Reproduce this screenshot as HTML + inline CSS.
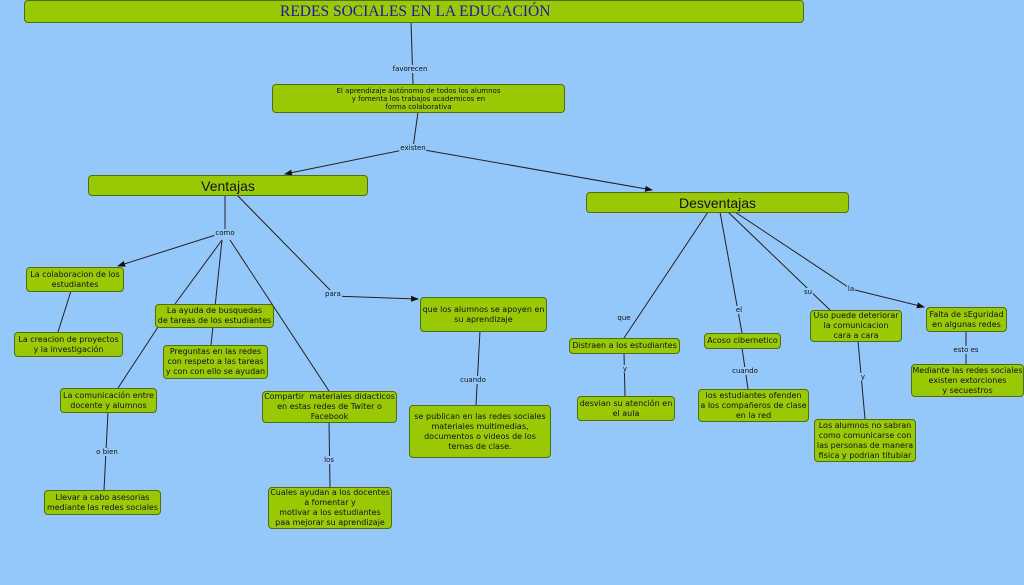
<!DOCTYPE html>
<html><head><meta charset="utf-8"><style>
body{margin:0;width:1024px;height:585px;background:#95c7fb;position:relative;overflow:hidden;font-family:"DejaVu Sans","Liberation Sans",sans-serif;}
.b{position:absolute;background:#99c900;border:1px solid #4f6d12;border-radius:4px;box-sizing:border-box;display:flex;align-items:center;justify-content:center;text-align:center;font-size:8px;line-height:10px;color:#111;}
.l{position:absolute;font-size:7px;color:#111;background:#95c7fb;transform:translate(-50%,-50%);padding:0 1px;white-space:nowrap;}
svg{position:absolute;left:0;top:0}
</style></head><body>
<svg width="1024" height="585">
<defs><marker id="a" markerWidth="8" markerHeight="6" refX="7" refY="3" orient="auto"><path d="M0,0L8,3L0,6z" fill="#111"/></marker></defs>
<g stroke="#222" stroke-width="1" fill="none">
<path d="M411,22L413,84"/>
<path d="M418,112L413,148"/>
<path d="M413,148L285,174" marker-end="url(#a)"/>
<path d="M413,148L652,190" marker-end="url(#a)"/>
<path d="M225,195L225,232"/>
<path d="M225,232L118,266" marker-end="url(#a)"/>
<path d="M222,240L175,304"/>
<path d="M222,240L211,345"/>
<path d="M158,327L118,388"/>
<path d="M230,240L329,391"/>
<path d="M237,195L333,293"/>
<path d="M333,296L418,299" marker-end="url(#a)"/>
<path d="M71,291L58,332"/>
<path d="M108,412L104,490"/>
<path d="M329,422L330,487"/>
<path d="M480,331L476,405"/>
<path d="M708,212L624,338"/>
<path d="M720,212L742,333"/>
<path d="M728,212L830,310"/>
<path d="M735,212L851,289L924,307" marker-end="url(#a)"/>
<path d="M624,353L625,396"/>
<path d="M742,348L748,389"/>
<path d="M858,341L865,419"/>
<path d="M966,331L966,364"/>
</g></svg>
<div class="b" style="left:24px;top:0;width:780px;height:23px;justify-content:flex-start;padding-left:255px;font-family:'Liberation Serif',serif;font-size:15.5px;color:#1a1aa0;">REDES SOCIALES EN LA EDUCACIÓN</div>
<div class="b" style="left:272px;top:84px;width:293px;height:29px;font-size:7px;line-height:8px;">El aprendizaje autónomo de todos los alumnos<br>y fomenta los trabajos academicos en<br>forma colaborativa</div>
<div class="b" style="left:88px;top:175px;width:280px;height:21px;font-family:'Liberation Sans',sans-serif;font-size:14px;">Ventajas</div>
<div class="b" style="left:586px;top:192px;width:263px;height:21px;font-family:'Liberation Sans',sans-serif;font-size:14px;">Desventajas</div>
<div class="b" style="left:26px;top:267px;width:98px;height:25px;">La colaboracion de los<br>estudiantes</div>
<div class="b" style="left:14px;top:332px;width:109px;height:25px;">La creacion de proyectos<br>y la investigación</div>
<div class="b" style="left:155px;top:304px;width:119px;height:24px;">La ayuda de busquedas<br>de tareas de los estudiantes</div>
<div class="b" style="left:163px;top:345px;width:105px;height:34px;">Preguntas en las redes<br>con respeto a las tareas<br>y con con ello se ayudan</div>
<div class="b" style="left:60px;top:388px;width:97px;height:25px;">La comunicación entre<br>docente y alumnos</div>
<div class="b" style="left:44px;top:490px;width:117px;height:25px;">Llevar a cabo asesorias<br>mediante las redes sociales</div>
<div class="b" style="left:262px;top:391px;width:135px;height:32px;">Compartir&nbsp; materiales didacticos<br>en estas redes de Twiter o<br>Facebook</div>
<div class="b" style="left:268px;top:487px;width:124px;height:42px;">Cuales ayudan a los docentes<br>a fomentar y<br>motivar a los estudiantes<br>paa mejorar su aprendizaje</div>
<div class="b" style="left:420px;top:297px;width:127px;height:35px;">que los alumnos se apoyen en<br>su aprendizaje</div>
<div class="b" style="left:409px;top:405px;width:142px;height:53px;">se publican en las redes sociales<br>materiales multimedias,<br>documentos o videos de los<br>temas de clase.</div>
<div class="b" style="left:569px;top:338px;width:111px;height:16px;">Distraen a los estudiantes</div>
<div class="b" style="left:577px;top:396px;width:98px;height:25px;">desvian su atención en<br>el aula</div>
<div class="b" style="left:704px;top:333px;width:77px;height:16px;">Acoso cibernetico</div>
<div class="b" style="left:698px;top:389px;width:111px;height:33px;">los estudiantes ofenden<br>a los compañeros de clase<br>en la red</div>
<div class="b" style="left:810px;top:310px;width:92px;height:32px;">Uso puede deteriorar<br>la comunicacion<br>cara a cara</div>
<div class="b" style="left:814px;top:419px;width:102px;height:43px;">Los alumnos no sabran<br>como comunicarse con<br>las personas de manera<br>fisica y podrian titubiar</div>
<div class="b" style="left:926px;top:307px;width:81px;height:25px;">Falta de sEguridad<br>en algunas redes</div>
<div class="b" style="left:911px;top:364px;width:113px;height:33px;">Mediante las redes sociales<br>existen extorciones<br>y secuestros</div>
<div class="l" style="left:410px;top:69px">favorecen</div>
<div class="l" style="left:413px;top:148px">existen</div>
<div class="l" style="left:225px;top:233px">como</div>
<div class="l" style="left:333px;top:294px">para</div>
<div class="l" style="left:107px;top:452px">o bien</div>
<div class="l" style="left:329px;top:460px">los</div>
<div class="l" style="left:473px;top:380px">cuando</div>
<div class="l" style="left:624px;top:318px">que</div>
<div class="l" style="left:739px;top:310px">el</div>
<div class="l" style="left:808px;top:292px">su</div>
<div class="l" style="left:851px;top:289px">la</div>
<div class="l" style="left:625px;top:369px">y</div>
<div class="l" style="left:745px;top:371px">cuando</div>
<div class="l" style="left:863px;top:377px">y</div>
<div class="l" style="left:966px;top:350px">esto es</div>
</body></html>
